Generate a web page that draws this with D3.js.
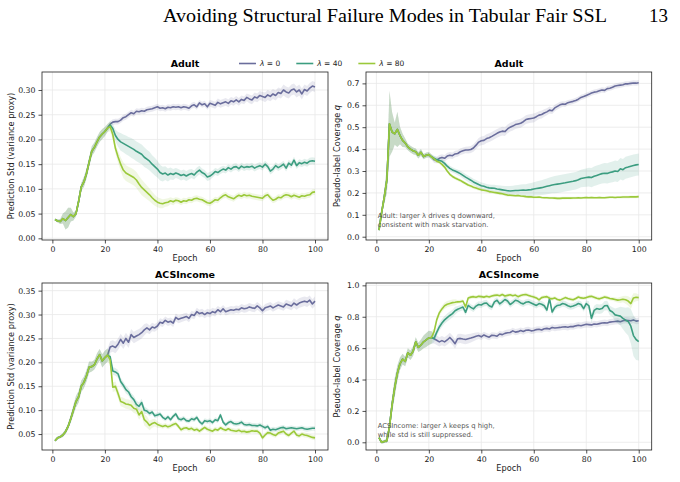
<!DOCTYPE html>
<html lang="en">
<meta charset="utf-8">
<head>
    <script src="https://d3js.org/d3.v7.min.js"></script>
    <style>
        body { margin: 0; background: #fff; }
        text { font-family: "DejaVu Sans", sans-serif; }
    </style>
</head>
<body>
</body>

<script>
var width = 680, height = 482;

// ---- data (epochs 1..100; first 21 epochs are shared by all three runs) ----
var epochs = d3.range(1, 101);
var lambdas = ["0", "40", "80"];
var colors = ["#6a6d9c", "#3c9d80", "#9bc93a"];
var xTicks = [0, 20, 40, 60, 80, 100];

// Adult - prediction std
var adultStdShared = [0.038,0.035,0.034,0.040,0.036,0.042,0.048,0.044,0.050,0.075,0.104,0.114,0.131,0.154,0.176,0.184,0.195,0.205,0.211,0.216,0.223];
var adultStdSharedBand = [0.002,0.003,0.005,0.010,0.018,0.020,0.014,0.008,0.006,0.008,0.008,0.010,0.010,0.010,0.010,0.010,0.010,0.010,0.010,0.009,0.008];
var adultStdL0 = [0.231,0.235,0.236,0.236,0.239,0.244,0.246,0.250,0.254,
    0.252,0.257,0.256,0.258,0.257,0.260,0.261,0.262,0.264,0.266,
    0.263,0.264,0.262,0.265,0.264,0.266,0.265,0.266,0.264,0.266,
    0.265,0.263,0.268,0.270,0.266,0.274,0.270,0.272,0.266,0.273,
    0.271,0.269,0.275,0.272,0.274,0.276,0.273,0.278,0.276,0.280,
    0.276,0.281,0.279,0.285,0.282,0.280,0.286,0.284,0.289,0.287,
    0.285,0.290,0.287,0.292,0.289,0.295,0.293,0.300,0.296,0.294,
    0.300,0.302,0.296,0.300,0.292,0.301,0.298,0.304,0.308,0.306];
var adultStdL40 = [0.229,0.222,0.208,0.200,0.195,0.192,0.189,0.186,0.183,
    0.180,0.176,0.173,0.170,0.164,0.160,0.156,0.150,0.145,0.140,
    0.133,0.130,0.132,0.128,0.131,0.129,0.132,0.130,0.127,0.129,
    0.126,0.129,0.131,0.128,0.134,0.138,0.133,0.130,0.124,0.126,
    0.130,0.135,0.133,0.137,0.140,0.138,0.143,0.140,0.144,0.145,
    0.141,0.146,0.143,0.145,0.144,0.146,0.142,0.145,0.147,0.144,
    0.150,0.145,0.136,0.140,0.147,0.143,0.146,0.150,0.142,0.152,
    0.148,0.158,0.147,0.153,0.151,0.154,0.152,0.156,0.157,0.156];
var adultStdL80 = [0.226,0.210,0.182,0.165,0.150,0.138,0.132,0.129,0.126,
    0.123,0.118,0.110,0.103,0.098,0.093,0.088,0.082,0.077,0.073,
    0.071,0.070,0.072,0.073,0.076,0.074,0.077,0.076,0.073,0.076,
    0.075,0.078,0.077,0.080,0.081,0.079,0.078,0.075,0.072,0.071,
    0.074,0.078,0.077,0.082,0.086,0.088,0.084,0.082,0.080,0.084,
    0.087,0.085,0.088,0.086,0.087,0.085,0.084,0.083,0.082,0.081,
    0.086,0.088,0.082,0.077,0.079,0.083,0.082,0.086,0.088,0.087,
    0.084,0.087,0.085,0.083,0.086,0.085,0.087,0.088,0.093,0.094];
var adultStdL0Band = [0.006,0.006,0.006,0.006,0.006,0.006,0.006,0.006,0.006,
    0.006,0.006,0.006,0.006,0.006,0.006,0.006,0.006,0.006,0.006,
    0.006,0.006,0.006,0.006,0.006,0.006,0.006,0.006,0.006,0.006,
    0.006,0.006,0.006,0.006,0.006,0.006,0.006,0.006,0.006,0.007,
    0.007,0.007,0.008,0.008,0.008,0.008,0.008,0.008,0.008,0.008,
    0.008,0.008,0.008,0.008,0.009,0.009,0.009,0.009,0.009,0.009,
    0.010,0.010,0.010,0.010,0.010,0.010,0.010,0.011,0.011,0.011,
    0.011,0.011,0.011,0.011,0.011,0.010,0.010,0.010,0.010,0.010];
var adultStdL40Band = [0.008,0.010,0.012,0.015,0.018,0.018,0.019,0.019,0.020,
    0.020,0.020,0.020,0.020,0.020,0.019,0.019,0.018,0.018,0.017,
    0.016,0.015,0.014,0.013,0.012,0.011,0.010,0.010,0.010,0.010,
    0.010,0.010,0.009,0.009,0.009,0.009,0.008,0.008,0.008,0.008,
    0.007,0.007,0.007,0.007,0.007,0.007,0.007,0.007,0.007,0.007,
    0.007,0.007,0.007,0.007,0.007,0.007,0.007,0.007,0.007,0.007,
    0.007,0.007,0.007,0.007,0.007,0.007,0.007,0.007,0.007,0.007,
    0.007,0.007,0.007,0.007,0.007,0.007,0.007,0.007,0.007,0.007];
var adultStdL80Band = [0.010,0.010,0.010,0.012,0.014,0.016,0.016,0.016,0.016,
    0.016,0.016,0.016,0.016,0.015,0.014,0.013,0.012,0.011,0.010,
    0.010,0.009,0.008,0.008,0.007,0.007,0.006,0.006,0.006,0.006,
    0.006,0.006,0.006,0.006,0.006,0.006,0.006,0.006,0.006,0.006,
    0.006,0.006,0.006,0.006,0.006,0.006,0.006,0.006,0.006,0.006,
    0.006,0.006,0.006,0.006,0.006,0.006,0.006,0.006,0.006,0.006,
    0.006,0.006,0.006,0.006,0.006,0.006,0.006,0.006,0.006,0.006,
    0.006,0.006,0.006,0.006,0.006,0.006,0.006,0.006,0.006,0.006];

// Adult - pseudo-label coverage q
var adultCovShared = [0.030,0.110,0.180,0.260,0.515,0.478,0.470,0.490,0.462,0.440,0.428,0.410,0.400,0.392,0.388,0.372,0.385,0.366,0.372,0.375,0.365];
var adultCovSharedBand = [0.004,0.015,0.030,0.060,0.150,0.090,0.050,0.080,0.040,0.030,0.020,0.015,0.015,0.015,0.015,0.015,0.015,0.012,0.012,0.012,0.012];
var adultCovL0 = [0.352,0.350,0.358,0.362,0.358,0.368,0.372,0.370,0.378,
    0.380,0.388,0.392,0.396,0.396,0.398,0.405,0.418,0.432,0.438,
    0.440,0.448,0.452,0.458,0.465,0.472,0.478,0.482,0.480,0.492,
    0.500,0.505,0.512,0.515,0.518,0.525,0.535,0.538,0.540,0.542,
    0.548,0.555,0.558,0.565,0.570,0.578,0.575,0.588,0.595,0.602,
    0.606,0.605,0.612,0.615,0.618,0.622,0.628,0.636,0.640,0.645,
    0.650,0.656,0.660,0.662,0.666,0.670,0.668,0.676,0.678,0.682,
    0.688,0.690,0.692,0.694,0.698,0.698,0.700,0.702,0.701,0.703];
var adultCovL40 = [0.358,0.352,0.348,0.344,0.335,0.322,0.312,0.305,0.300,
    0.294,0.288,0.280,0.272,0.265,0.258,0.250,0.244,0.238,0.233,
    0.230,0.226,0.223,0.222,0.221,0.218,0.216,0.214,0.212,0.210,
    0.209,0.210,0.211,0.211,0.212,0.213,0.212,0.214,0.215,0.218,
    0.220,0.222,0.224,0.227,0.230,0.233,0.236,0.238,0.240,0.242,
    0.244,0.246,0.249,0.251,0.253,0.256,0.260,0.266,0.268,0.270,
    0.272,0.270,0.276,0.280,0.284,0.288,0.290,0.289,0.293,0.296,
    0.300,0.298,0.310,0.306,0.315,0.318,0.322,0.325,0.328,0.330];
var adultCovL80 = [0.355,0.345,0.340,0.330,0.318,0.300,0.285,0.275,0.268,
    0.262,0.257,0.250,0.243,0.236,0.232,0.226,0.222,0.218,0.214,
    0.212,0.210,0.206,0.204,0.202,0.200,0.198,0.196,0.193,0.190,
    0.189,0.188,0.187,0.188,0.186,0.185,0.183,0.182,0.182,0.180,
    0.180,0.181,0.179,0.178,0.178,0.177,0.177,0.176,0.175,0.175,
    0.176,0.176,0.177,0.176,0.177,0.177,0.178,0.177,0.178,0.179,
    0.178,0.179,0.178,0.178,0.179,0.178,0.178,0.179,0.180,0.180,
    0.179,0.180,0.180,0.181,0.181,0.181,0.182,0.182,0.182,0.183];
var adultCovL0Band = [0.015,0.015,0.015,0.015,0.015,0.015,0.015,0.015,0.015,
    0.015,0.015,0.015,0.015,0.016,0.016,0.017,0.018,0.019,0.020,
    0.020,0.020,0.020,0.020,0.020,0.020,0.020,0.020,0.020,0.020,
    0.020,0.020,0.020,0.020,0.020,0.020,0.020,0.020,0.020,0.020,
    0.019,0.018,0.018,0.017,0.016,0.016,0.015,0.015,0.014,0.014,
    0.013,0.013,0.012,0.012,0.012,0.012,0.012,0.012,0.012,0.012,
    0.012,0.012,0.012,0.012,0.012,0.012,0.012,0.012,0.012,0.012,
    0.012,0.012,0.012,0.012,0.012,0.012,0.012,0.012,0.012,0.012];
var adultCovL40Band = [0.012,0.012,0.012,0.012,0.012,0.012,0.012,0.012,0.012,
    0.013,0.013,0.014,0.014,0.015,0.015,0.015,0.015,0.015,0.015,
    0.015,0.015,0.015,0.015,0.016,0.017,0.018,0.019,0.020,0.021,
    0.022,0.023,0.024,0.025,0.026,0.027,0.028,0.029,0.030,0.031,
    0.032,0.033,0.034,0.035,0.036,0.037,0.038,0.039,0.040,0.040,
    0.040,0.040,0.040,0.040,0.040,0.040,0.040,0.040,0.041,0.042,
    0.043,0.044,0.045,0.045,0.045,0.045,0.046,0.046,0.047,0.047,
    0.048,0.048,0.049,0.049,0.050,0.050,0.050,0.050,0.050,0.050];
var adultCovL80Band = [0.008,0.008,0.008,0.008,0.008,0.008,0.008,0.008,0.008,
    0.008,0.008,0.008,0.008,0.008,0.008,0.008,0.008,0.008,0.008,
    0.007,0.007,0.007,0.007,0.007,0.007,0.007,0.007,0.007,0.007,
    0.006,0.006,0.006,0.006,0.006,0.006,0.006,0.006,0.006,0.006,
    0.006,0.006,0.006,0.006,0.006,0.006,0.006,0.006,0.006,0.006,
    0.006,0.006,0.006,0.006,0.006,0.006,0.006,0.006,0.006,0.006,
    0.006,0.006,0.006,0.006,0.006,0.006,0.006,0.006,0.006,0.006,
    0.006,0.006,0.006,0.006,0.006,0.006,0.006,0.006,0.006,0.006];

// ACSIncome - prediction std
var acsStdShared = [0.036,0.042,0.044,0.048,0.055,0.066,0.082,0.100,0.118,0.128,0.150,0.158,0.172,0.190,0.191,0.195,0.207,0.216,0.203,0.210,0.215];
var acsStdSharedBand = [0.002,0.003,0.003,0.004,0.005,0.006,0.008,0.010,0.012,0.012,0.012,0.012,0.012,0.012,0.010,0.010,0.012,0.012,0.014,0.014,0.014];
var acsStdL0 = [0.232,0.234,0.231,0.238,0.248,0.240,0.250,0.242,0.258,
    0.252,0.255,0.258,0.262,0.268,0.272,0.268,0.274,0.272,0.276,
    0.284,0.282,0.288,0.284,0.286,0.282,0.294,0.290,0.292,0.294,
    0.296,0.292,0.300,0.298,0.306,0.302,0.304,0.300,0.304,0.302,
    0.306,0.304,0.310,0.306,0.312,0.306,0.308,0.310,0.309,0.311,
    0.310,0.314,0.312,0.313,0.316,0.314,0.313,0.318,0.314,0.308,
    0.314,0.316,0.318,0.314,0.317,0.320,0.318,0.316,0.322,0.320,
    0.318,0.324,0.320,0.324,0.326,0.328,0.326,0.330,0.322,0.328];
var acsStdL40 = [0.212,0.182,0.180,0.176,0.160,0.152,0.143,0.138,0.128,
    0.122,0.112,0.108,0.116,0.100,0.098,0.093,0.096,0.088,0.090,
    0.092,0.085,0.081,0.086,0.080,0.087,0.092,0.082,0.080,0.083,
    0.078,0.077,0.082,0.080,0.085,0.076,0.071,0.078,0.076,0.078,
    0.074,0.080,0.078,0.090,0.075,0.069,0.074,0.076,0.072,0.071,
    0.072,0.075,0.070,0.069,0.070,0.068,0.068,0.067,0.069,0.066,
    0.063,0.066,0.058,0.060,0.059,0.061,0.063,0.064,0.061,0.062,
    0.063,0.062,0.061,0.062,0.063,0.061,0.060,0.061,0.062,0.062];
var acsStdL80 = [0.205,0.148,0.150,0.135,0.118,0.116,0.113,0.112,0.110,
    0.104,0.102,0.090,0.097,0.080,0.075,0.068,0.072,0.074,0.070,
    0.068,0.066,0.068,0.065,0.067,0.070,0.072,0.066,0.059,0.062,
    0.063,0.060,0.062,0.058,0.060,0.056,0.060,0.064,0.060,0.058,
    0.056,0.060,0.058,0.063,0.060,0.058,0.061,0.058,0.057,0.056,
    0.058,0.055,0.056,0.054,0.055,0.057,0.056,0.056,0.052,0.042,
    0.048,0.053,0.052,0.049,0.047,0.052,0.054,0.056,0.050,0.047,
    0.052,0.056,0.048,0.046,0.050,0.048,0.047,0.045,0.043,0.042];
var acsStdL0Band = [0.012,0.012,0.012,0.012,0.012,0.012,0.012,0.012,0.012,
    0.012,0.012,0.012,0.012,0.012,0.010,0.009,0.009,0.008,0.008,
    0.008,0.008,0.008,0.008,0.008,0.008,0.008,0.008,0.008,0.008,
    0.008,0.008,0.008,0.008,0.008,0.008,0.008,0.008,0.008,0.008,
    0.008,0.008,0.008,0.008,0.008,0.008,0.008,0.008,0.008,0.008,
    0.008,0.008,0.008,0.008,0.008,0.008,0.008,0.008,0.008,0.008,
    0.008,0.008,0.008,0.008,0.008,0.008,0.008,0.008,0.009,0.009,
    0.009,0.010,0.010,0.010,0.010,0.010,0.010,0.010,0.010,0.010];
var acsStdL40Band = [0.008,0.008,0.008,0.008,0.008,0.008,0.008,0.008,0.008,
    0.008,0.008,0.008,0.008,0.008,0.006,0.006,0.005,0.005,0.005,
    0.005,0.005,0.005,0.005,0.005,0.005,0.005,0.005,0.005,0.005,
    0.005,0.005,0.005,0.005,0.005,0.005,0.005,0.005,0.005,0.005,
    0.005,0.005,0.005,0.005,0.005,0.005,0.005,0.005,0.005,0.005,
    0.005,0.005,0.005,0.005,0.005,0.005,0.005,0.005,0.005,0.005,
    0.005,0.005,0.005,0.005,0.005,0.005,0.005,0.005,0.005,0.005,
    0.005,0.005,0.005,0.005,0.005,0.005,0.005,0.005,0.005,0.005];
var acsStdL80Band = [0.010,0.010,0.010,0.010,0.010,0.010,0.010,0.010,0.010,
    0.010,0.010,0.010,0.010,0.012,0.012,0.010,0.009,0.008,0.007,
    0.005,0.005,0.005,0.005,0.005,0.005,0.005,0.005,0.005,0.005,
    0.005,0.005,0.005,0.005,0.005,0.005,0.005,0.005,0.005,0.005,
    0.005,0.005,0.005,0.005,0.005,0.005,0.005,0.005,0.005,0.005,
    0.005,0.005,0.005,0.005,0.005,0.005,0.005,0.005,0.005,0.005,
    0.005,0.005,0.005,0.005,0.005,0.005,0.005,0.005,0.005,0.005,
    0.005,0.005,0.005,0.005,0.005,0.005,0.005,0.005,0.005,0.005];

// ACSIncome - pseudo-label coverage q
var acsCovShared = [0.030,0.000,0.005,0.010,0.100,0.240,0.350,0.440,0.500,0.530,0.515,0.570,0.555,0.580,0.640,0.605,0.620,0.640,0.652,0.665,0.668];
var acsCovSharedBand = [0.015,0.010,0.010,0.015,0.040,0.050,0.060,0.050,0.040,0.035,0.030,0.030,0.030,0.030,0.030,0.030,0.035,0.040,0.045,0.045,0.040];
var acsCovL0 = [0.660,0.650,0.640,0.648,0.640,0.652,0.668,0.650,0.628,
    0.660,0.662,0.658,0.655,0.660,0.664,0.670,0.676,0.680,0.672,
    0.684,0.676,0.670,0.682,0.680,0.676,0.690,0.686,0.694,0.698,
    0.700,0.710,0.702,0.705,0.712,0.706,0.714,0.716,0.710,0.712,
    0.718,0.720,0.716,0.724,0.726,0.722,0.732,0.728,0.730,0.732,
    0.735,0.736,0.733,0.738,0.737,0.742,0.746,0.743,0.748,0.752,
    0.750,0.748,0.754,0.752,0.756,0.760,0.762,0.760,0.766,0.768,
    0.770,0.772,0.768,0.775,0.778,0.776,0.774,0.780,0.772,0.774];
var acsCovL40 = [0.662,0.700,0.735,0.760,0.780,0.795,0.808,0.820,0.838,
    0.848,0.855,0.862,0.828,0.872,0.860,0.850,0.868,0.878,0.875,
    0.885,0.888,0.870,0.862,0.895,0.905,0.882,0.895,0.910,0.900,
    0.878,0.890,0.905,0.900,0.888,0.882,0.892,0.895,0.888,0.880,
    0.872,0.884,0.880,0.870,0.842,0.915,0.830,0.860,0.872,0.875,
    0.884,0.880,0.870,0.864,0.868,0.875,0.884,0.878,0.852,0.884,
    0.870,0.790,0.840,0.852,0.848,0.852,0.870,0.872,0.840,0.830,
    0.812,0.808,0.804,0.790,0.778,0.770,0.740,0.680,0.655,0.642];
var acsCovL80 = [0.705,0.780,0.825,0.850,0.870,0.880,0.885,0.890,0.892,
    0.895,0.896,0.900,0.862,0.920,0.925,0.928,0.924,0.930,0.928,
    0.925,0.930,0.926,0.932,0.936,0.938,0.934,0.942,0.932,0.936,
    0.940,0.934,0.938,0.928,0.935,0.940,0.942,0.936,0.930,0.926,
    0.920,0.908,0.922,0.926,0.928,0.918,0.914,0.920,0.910,0.906,
    0.914,0.922,0.916,0.912,0.908,0.916,0.926,0.920,0.918,0.922,
    0.928,0.930,0.924,0.918,0.914,0.920,0.926,0.922,0.916,0.914,
    0.910,0.906,0.908,0.912,0.908,0.900,0.884,0.920,0.924,0.922];
var acsCovL0Band = [0.030,0.030,0.030,0.030,0.030,0.030,0.030,0.030,0.030,
    0.030,0.030,0.030,0.030,0.030,0.028,0.026,0.024,0.022,0.020,
    0.020,0.020,0.020,0.020,0.020,0.020,0.020,0.020,0.020,0.020,
    0.020,0.020,0.020,0.020,0.020,0.020,0.020,0.020,0.020,0.020,
    0.020,0.020,0.020,0.020,0.020,0.020,0.020,0.020,0.020,0.020,
    0.020,0.020,0.020,0.020,0.020,0.020,0.020,0.020,0.020,0.020,
    0.020,0.020,0.020,0.020,0.020,0.020,0.020,0.020,0.020,0.020,
    0.020,0.020,0.020,0.020,0.020,0.020,0.020,0.020,0.020,0.020];
var acsCovL40Band = [0.025,0.025,0.025,0.025,0.025,0.025,0.025,0.025,0.025,
    0.020,0.020,0.020,0.020,0.020,0.020,0.020,0.020,0.020,0.020,
    0.020,0.020,0.020,0.020,0.020,0.020,0.020,0.020,0.020,0.020,
    0.020,0.020,0.020,0.020,0.020,0.020,0.020,0.020,0.020,0.020,
    0.020,0.020,0.020,0.020,0.020,0.020,0.020,0.020,0.020,0.020,
    0.020,0.020,0.020,0.020,0.020,0.020,0.020,0.020,0.020,0.020,
    0.030,0.030,0.030,0.030,0.030,0.030,0.030,0.030,0.030,0.030,
    0.040,0.050,0.060,0.070,0.080,0.090,0.110,0.130,0.130,0.120];
var acsCovL80Band = [0.020,0.020,0.020,0.020,0.020,0.020,0.020,0.020,0.020,
    0.012,0.012,0.012,0.012,0.012,0.012,0.012,0.012,0.012,0.012,
    0.012,0.012,0.012,0.012,0.012,0.012,0.012,0.012,0.012,0.012,
    0.012,0.012,0.012,0.012,0.012,0.012,0.012,0.012,0.012,0.012,
    0.012,0.012,0.012,0.012,0.012,0.012,0.012,0.012,0.012,0.012,
    0.012,0.012,0.012,0.012,0.012,0.012,0.012,0.012,0.012,0.012,
    0.012,0.012,0.012,0.012,0.012,0.012,0.012,0.012,0.012,0.012,
    0.015,0.015,0.020,0.020,0.025,0.030,0.035,0.030,0.025,0.020];

var stdLabel = "Prediction Std (variance proxy)";
var covLabel = "Pseudo-label Coverage ";

// ---- layout ----
var cols = [[42, 328], [366, 651.7]];
var rows = [[72, 240], [283, 450]];

var panels = [
    {title: "Adult", col: 0, row: 0, ylab: stdLabel, q: false, ydom: [-0.0034, 0.3364],
     yticks: [0, 0.05, 0.10, 0.15, 0.20, 0.25, 0.30], fmt: ".2f",
     shared: adultStdShared, sharedBand: adultStdSharedBand,
     tails: [adultStdL0, adultStdL40, adultStdL80], bands: [adultStdL0Band, adultStdL40Band, adultStdL80Band]},
    {title: "Adult", col: 1, row: 0, ylab: covLabel, q: true, ydom: [-0.015, 0.752],
     yticks: [0, 0.1, 0.2, 0.3, 0.4, 0.5, 0.6, 0.7], fmt: ".1f",
     shared: adultCovShared, sharedBand: adultCovSharedBand,
     tails: [adultCovL0, adultCovL40, adultCovL80], bands: [adultCovL0Band, adultCovL40Band, adultCovL80Band],
     note: ["Adult: larger \u03bb drives q downward,", "consistent with mask starvation."], noteY: 218},
    {title: "ACSIncome", col: 0, row: 1, ylab: stdLabel, q: false, ydom: [0.0166, 0.366],
     yticks: [0.05, 0.10, 0.15, 0.20, 0.25, 0.30, 0.35], fmt: ".2f",
     shared: acsStdShared, sharedBand: acsStdSharedBand,
     tails: [acsStdL0, acsStdL40, acsStdL80], bands: [acsStdL0Band, acsStdL40Band, acsStdL80Band]},
    {title: "ACSIncome", col: 1, row: 1, ylab: covLabel, q: true, ydom: [-0.049, 1.015],
     yticks: [0, 0.2, 0.4, 0.6, 0.8, 1.0], fmt: ".1f",
     shared: acsCovShared, sharedBand: acsCovSharedBand,
     tails: [acsCovL0, acsCovL40, acsCovL80], bands: [acsCovL0Band, acsCovL40Band, acsCovL80Band],
     note: ["ACSIncome: larger \u03bb keeps q high,", "while std is still suppressed."], noteY: 428.3}
];

var svg = d3.select('body').append('svg').attr('width', width).attr('height', height);

// page header
svg.append('text').attr('x', 163).attr('y', 21.5)
    .style('font-family', '"Liberation Serif", serif').style('font-size', '19px')
    .attr('textLength', 444).attr('lengthAdjust', 'spacingAndGlyphs')
    .text('Avoiding Structural Failure Modes in Tabular Fair SSL');
svg.append('text').attr('x', 668).attr('y', 21.5).attr('text-anchor', 'end')
    .style('font-family', '"Liberation Serif", serif').style('font-size', '19px')
    .text('13');

panels.forEach(function(p) {
    var xr = cols[p.col], yr = rows[p.row];
    var x = d3.scaleLinear().domain([-3.95, 104.95]).range(xr);
    var y = d3.scaleLinear().domain(p.ydom).range([yr[1], yr[0]]);
    var g = svg.append('g');

    // grid
    g.selectAll('.gx').data(xTicks).join('line')
        .attr('x1', d => x(d)).attr('x2', d => x(d)).attr('y1', yr[0]).attr('y2', yr[1])
        .attr('stroke', '#e8e8e8').attr('stroke-width', 0.8);
    g.selectAll('.gy').data(p.yticks).join('line')
        .attr('x1', xr[0]).attr('x2', xr[1]).attr('y1', d => y(d)).attr('y2', d => y(d))
        .attr('stroke', '#e8e8e8').attr('stroke-width', 0.8);

    // series: band then line, lambda=80 on top
    p.tails.forEach(function(tail, i) {
        var mean = p.shared.concat(tail);
        var band = p.sharedBand.concat(p.bands[i]);
        var pts = epochs.map((e, k) => ({e: e, m: mean[k], b: band[k]}));
        g.append('path').datum(pts)
            .attr('fill', colors[i]).attr('fill-opacity', 0.15)
            .attr('d', d3.area().x(d => x(d.e)).y0(d => y(d.m - d.b)).y1(d => y(d.m + d.b)));
        g.append('path').datum(pts)
            .attr('fill', 'none').attr('stroke', colors[i]).attr('stroke-width', 1.6)
            .attr('stroke-linejoin', 'round')
            .attr('d', d3.line().x(d => x(d.e)).y(d => y(d.m)));
    });

    // axes
    var xa = g.append('g').attr('transform', 'translate(0,' + yr[1] + ')')
        .call(d3.axisBottom(x).tickValues(xTicks).tickSize(3.5).tickPadding(3));
    var ya = g.append('g').attr('transform', 'translate(' + xr[0] + ',0)')
        .call(d3.axisLeft(y).tickValues(p.yticks).tickFormat(d3.format(p.fmt)).tickSize(3.5).tickPadding(3));
    [xa, ya].forEach(function(a) {
        a.select('.domain').remove();
        a.selectAll('line').attr('stroke', '#222').attr('stroke-width', 0.8);
        a.selectAll('text').style('font-size', '7.8px').attr('fill', '#222');
    });

    // frame
    g.append('rect').attr('x', xr[0]).attr('y', yr[0])
        .attr('width', xr[1] - xr[0]).attr('height', yr[1] - yr[0])
        .attr('fill', 'none').attr('stroke', '#222').attr('stroke-width', 0.8);

    // titles and labels
    g.append('text').attr('x', (xr[0] + xr[1]) / 2).attr('y', yr[0] - 5.3)
        .attr('text-anchor', 'middle').style('font-size', '9.5px').style('font-weight', 'bold')
        .text(p.title);
    g.append('text').attr('x', (xr[0] + xr[1]) / 2).attr('y', yr[1] + 21)
        .attr('text-anchor', 'middle').style('font-size', '8.2px').attr('fill', '#222')
        .text('Epoch');
    var yl = g.append('text')
        .attr('transform', 'translate(' + (xr[0] - (p.q ? 26.5 : 28.5)) + ',' + ((yr[0] + yr[1]) / 2) + ') rotate(-90)')
        .attr('text-anchor', 'middle').style('font-size', '8.2px').attr('fill', '#222')
        .text(p.ylab);
    if (p.q) yl.append('tspan').style('font-style', 'italic').text('q');

    if (p.note) {
        g.selectAll('.note').data(p.note).join('text')
            .attr('x', 377.7).attr('y', (d, i) => p.noteY + i * 8.5)
            .style('font-size', '6.8px').attr('fill', '#555')
            .text(d => d);
    }
});

// legend
var lx = 239;
lambdas.forEach(function(l, i) {
    svg.append('line').attr('x1', lx).attr('x2', lx + 17).attr('y1', 63.5).attr('y2', 63.5)
        .attr('stroke', colors[i]).attr('stroke-width', 1.6);
    var t = svg.append('text').attr('x', lx + 21).attr('y', 66)
        .style('font-size', '7.5px').attr('fill', '#222');
    t.append('tspan').style('font-style', 'italic').text('\u03bb');
    t.append('tspan').text(' = ' + l);
    lx += 21 + t.node().getComputedTextLength() + 16;
});
</script>
